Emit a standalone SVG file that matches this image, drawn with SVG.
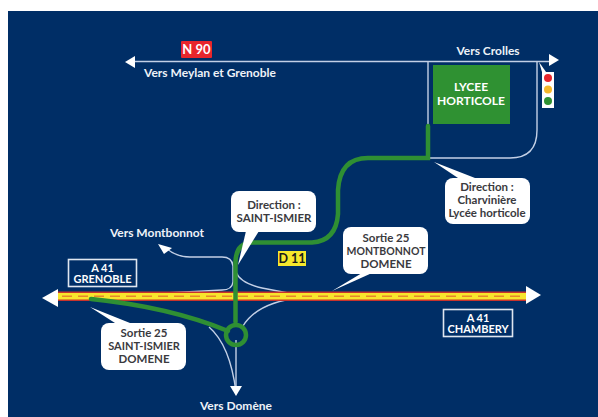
<svg xmlns="http://www.w3.org/2000/svg" width="598" height="417" viewBox="0 0 598 417">
<style>
text{font-family:Lato,"Liberation Sans",sans-serif;font-weight:700;text-anchor:middle}
.w{fill:#eef2f8;font-size:12px}
.d{fill:#3a3a3e;font-size:11.500px;font-weight:700}
.b{fill:#fff}
.r{fill:none;stroke:#c3d0e6;stroke-width:1.4}
.g{fill:none;stroke:#2f8f33;stroke-linecap:round;stroke-width:4.500}
.s{fill:#002e66;stroke:#dfe6f0;stroke-width:1.6}
.ah{fill:#fff}
.t{fill:#fff;font-size:11px}
.l{fill:#fff;font-size:12px}
</style>
<rect width="598" height="417" fill="#fff"/>
<rect x="8" y="11" width="590" height="406" fill="#002e66"/>
<g id="connectors">
<path class="r" d="M130 61.500H552"/>
<path class="r" d="M428 61V158"/>
<path class="r" d="M428 158H510Q537 158 537 130V61"/>
<path class="r" d="M166 248Q176 257 190 257H222Q232 257 233 266V282Q232 290 222 290Q170 293 95 296"/>
<path class="r" d="M236 272Q240 283 262 288Q285 293 310 296"/>
<path class="r" d="M243 326Q258 302 300 298"/>
<path class="r" d="M209 327Q230 345 236 392"/>
<path class="r" d="M236 340V392"/>
<rect x="58" y="291.500" width="468" height="9.500" fill="#c9332c"/>
<rect x="58" y="293" width="468" height="6.500" fill="#f8e42c"/>
<path d="M62 296.300H524" fill="none" stroke="#e8862a" stroke-width="1.500" stroke-dasharray="10 6"/>
<path class="g" d="M428 126V158H368Q340 158 338 190V214Q336 241 312 242.500H252Q236 243 235.500 262V322"/>
<path class="g" d="M91 299Q170 307 228 331"/>
<circle class="g" cx="236" cy="335" r="10"/>
<path class="ah" d="M125 62L135 56V68Z"/>
<path class="ah" d="M559 60L549 54V66Z"/>
<path class="ah" d="M42 298L58 289V307Z"/>
<path class="ah" d="M541 295L526 286V304Z"/>
<path class="ah" d="M236 396L230 386H242Z"/>
<path class="ah" d="M158 244L172 248L164 254Z"/>
</g>
<g id="n90"><rect x="181" y="41" width="31" height="17" rx="1" fill="#e8262c"/><text class="l" x="196.500" y="54" style="font-size:13px">N 90</text></g>
<g id="vers-meylan"><text class="w" x="210" y="77">Vers Meylan et Grenoble</text></g>
<g id="vers-crolles"><text class="w" x="488" y="55">Vers Crolles</text></g>
<g id="lycee"><rect x="433" y="65" width="77" height="59" fill="#2f9132"/><text class="l" x="471" y="91">LYCEE</text><text class="l" x="471" y="105">HORTICOLE</text></g>
<g id="traffic-light"><path class="b" d="M539 62L546 72H542Z"/><rect class="b" x="542" y="72" width="12" height="36"/><circle cx="548" cy="78" r="4" fill="#e8262c"/><circle cx="548" cy="89.500" r="4" fill="#f5b82a"/><circle cx="548" cy="101" r="4" fill="#2f9132"/></g>
<g id="bubble-charvin"><path class="b" d="M434 162L475 178H458Z"/><rect class="b" x="445" y="178" width="85" height="46" rx="8"/><text class="d" x="487" y="191">Direction :</text><text class="d" x="487" y="204">Charvinière</text><text class="d" x="487" y="217">Lycée horticole</text></g>
<g id="bubble-saint-ismier"><path class="b" d="M238 265L246 231H259Z"/><rect class="b" x="231" y="191" width="85" height="41" rx="8"/><text class="d" x="274" y="209">Direction :</text><text class="d" x="274" y="222">SAINT-ISMIER</text></g>
<g id="d11"><rect x="278" y="251" width="28" height="15" fill="#f6e82c"/><text x="292" y="263" style="fill:#1a1a1a;font-size:12.500px">D 11</text></g>
<g id="bubble-montbonnot"><path class="b" d="M332 291L362 273H372Z"/><rect class="b" x="343" y="227" width="85" height="47" rx="8"/><text class="d" x="386" y="242">Sortie 25</text><text class="d" x="386" y="255" style="font-size:10.500px">MONTBONNOT</text><text class="d" x="386" y="268">DOMENE</text></g>
<g id="bubble-sortie"><path class="b" d="M90 307L130 323H115Z"/><rect class="b" x="101" y="323" width="85" height="47" rx="8"/><text class="d" x="144" y="337">Sortie 25</text><text class="d" x="144" y="350" style="font-size:11px">SAINT-ISMIER</text><text class="d" x="144" y="363">DOMENE</text></g>
<g id="vers-montbonnot"><text class="w" x="157" y="237">Vers Montbonnot</text></g>
<g id="vers-domene"><text class="w" x="236" y="410">Vers Domène</text></g>
<g id="a41-grenoble"><rect class="s" x="68.500" y="259.500" width="68" height="27"/><text class="t" x="102.500" y="271.500">A 41</text><text class="t" x="102.500" y="283">GRENOBLE</text></g>
<g id="a41-chambery"><rect class="s" x="443.500" y="309.500" width="69" height="27"/><text class="t" x="478" y="321.500">A 41</text><text class="t" x="478" y="333">CHAMBERY</text></g>
</svg>
